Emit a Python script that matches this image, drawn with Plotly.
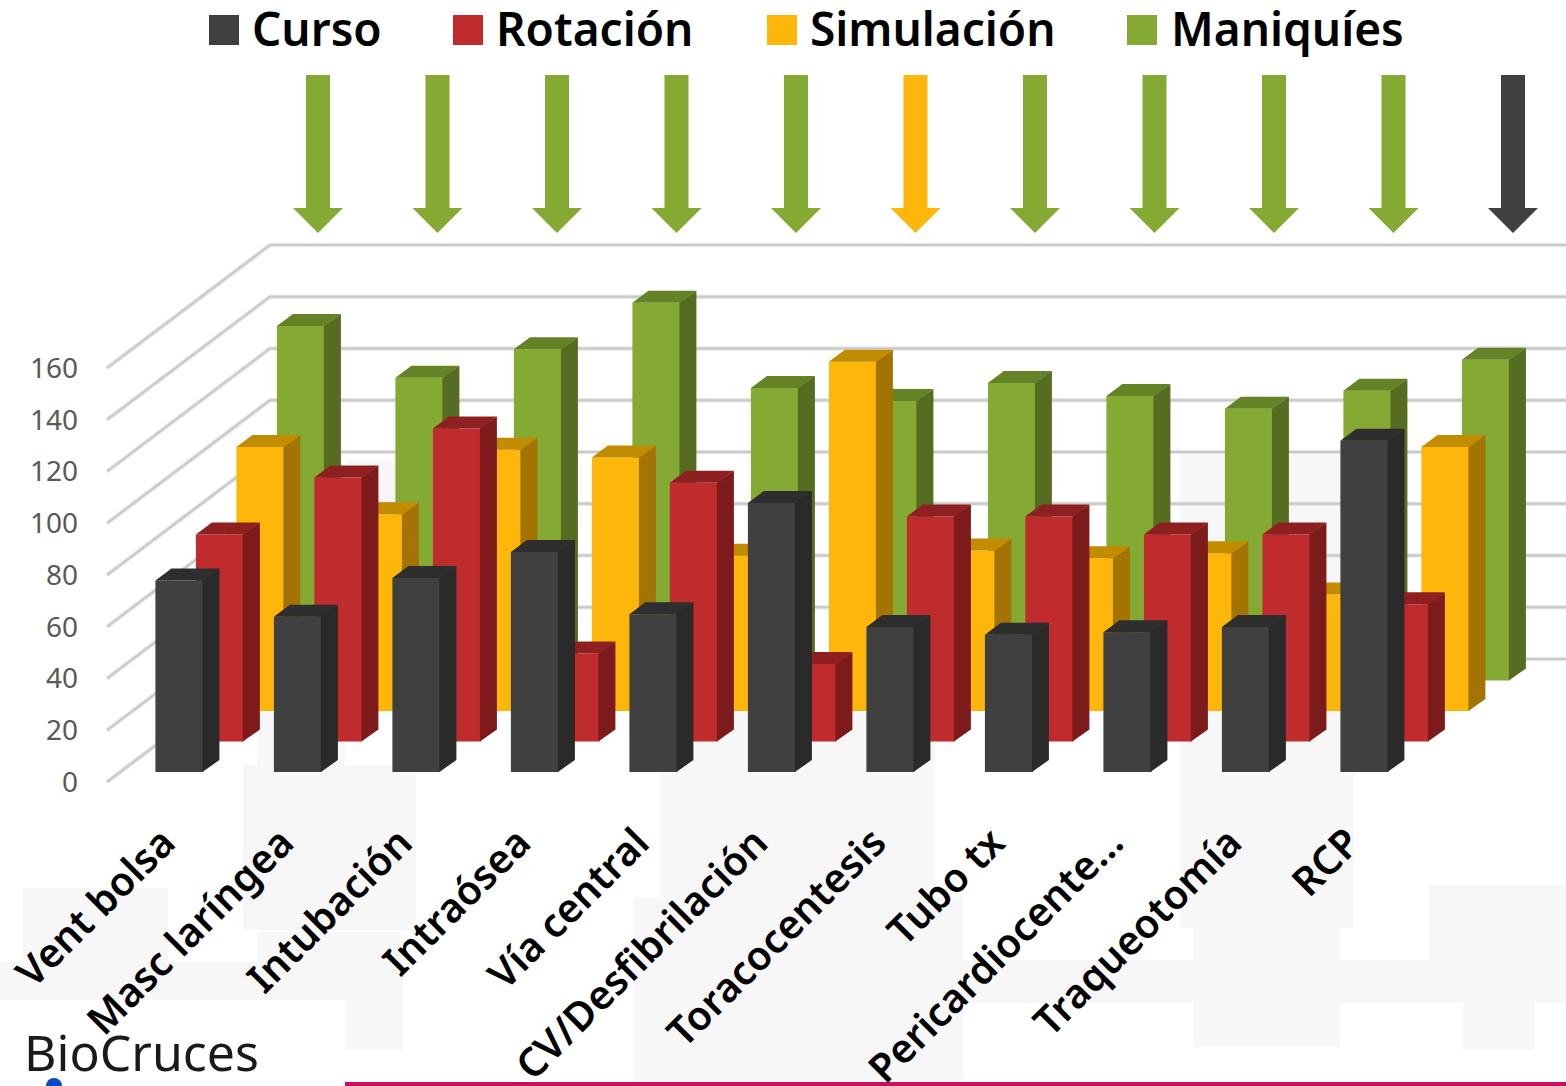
import plotly.graph_objects as go

categories = ["Vent bolsa", "Masc laríngea", "Intubación", "Intraósea", "Vía central",
              "CV/Desfibrilación", "Toracocentesis", "Tubo tx", "Pericardiocente...",
              "Traqueotomía", "RCP"]
curso = [74, 60, 75, 85, 61, 104, 56, 53, 54, 56, 128]
rotacion = [80, 102, 121, 34, 100, 30, 87, 87, 80, 80, 53]
simulacion = [102, 76, 101, 98, 60, 135, 62, 59, 61, 45, 102]
maniquies = [137, 117, 128, 146, 113, 108, 115, 110, 105, 112, 124]
preferred = ["Maniquíes"] * 5 + ["Simulación"] + ["Maniquíes"] * 4 + ["Curso"]
y_ticks = [0, 20, 40, 60, 80, 100, 120, 140, 160]

W, H = 1566, 1086
PX_X, X0 = 118.5, 179.4
PX_Y, Y0 = 2.5875, 782.0
X_RANGE = [(0 - X0) / PX_X, (W - X0) / PX_X]
Y_RANGE = [(Y0 - H) / PX_Y, Y0 / PX_Y]
BAR_W = 48 / PX_X
SIDE_X = 16 / PX_X
SIDE_Y = 12 / PX_Y
ROW_X = 40.5 / PX_X
ROW_Y = 30.5 / PX_Y
BASE_Y = 10 / PX_Y
SEAM = 1 / PX_X

series = [
    ("Curso", curso, "#404040", "#2a2a2a", "#2e2e2e", 0),
    ("Rotación", rotacion, "#c02b2e", "#7c1a1c", "#8f2022", 1),
    ("Simulación", simulacion, "#ffb60a", "#a37404", "#c18c00", 2),
    ("Maniquíes", maniquies, "#85aa33", "#566d21", "#648226", 3),
]
colors = {s[0]: s[2] for s in series}

fig = go.Figure()

# Chart walls: grid lines in data units, running back from the axis and along the wall
WALL_DX = 163 / PX_X
WALL_DY = 123 / PX_Y
WALL_X0 = (107 - X0) / PX_X
gx, gy = [], []
for v in y_ticks:
    gx += [WALL_X0, WALL_X0 + WALL_DX, X_RANGE[1], None]
    gy += [v, v + WALL_DY, v + WALL_DY, None]
fig.add_trace(go.Scatter(x=gx, y=gy, mode="lines", line=dict(color="#e6e6e6", width=4.5),
                         hoverinfo="skip", showlegend=False))
fig.add_trace(go.Scatter(x=gx, y=gy, mode="lines", line=dict(color="#c8c8c8", width=2),
                         hoverinfo="skip", showlegend=False))

# Back row first, each in its own overlaid subplot so it covers the rows behind it
for n, (name, vals, front, side, top, row) in enumerate(reversed(series), start=2):
    xa, ya = f"x{n}", f"y{n}"
    base = BASE_Y + row * ROW_Y
    xs = [i + row * ROW_X for i in range(len(vals))]
    fig.add_trace(go.Bar(x=xs, y=vals, base=[base] * len(vals), width=BAR_W, name=name,
                         marker=dict(color=front, line=dict(width=0)),
                         xaxis=xa, yaxis=ya, showlegend=False))
    sx, sy, tx, ty = [], [], [], []
    for c, v in zip(xs, vals):
        l, r, t = c - BAR_W / 2, c + BAR_W / 2, base + v
        sx += [r - SEAM, r + SIDE_X, r + SIDE_X, r - SEAM, r - SEAM, None]
        sy += [base, base + SIDE_Y, t + SIDE_Y, t, base, None]
        tx += [l, l + SIDE_X, r + SIDE_X, r, l, None]
        ty += [t, t + SIDE_Y, t + SIDE_Y, t, t, None]
    for px, py, col in ((sx, sy, side), (tx, ty, top)):
        fig.add_trace(go.Scatter(x=px, y=py, mode="lines", fill="toself", fillcolor=col,
                                 line=dict(width=0, color=col), hoverinfo="skip",
                                 showlegend=False, xaxis=xa, yaxis=ya))

def pxx(x):
    return x / W

def pxy(y):
    return 1 - y / H

shapes = []
# Faint background patches and logo panel
patches = [(243, 765, 416, 930), (257, 712, 345, 765), (347, 460, 420, 712), (22, 888, 168, 962),
           (258, 932, 400, 1050), (0, 962, 403, 1000), (345, 1000, 403, 1050), (660, 712, 935, 897),
           (633, 897, 963, 1086), (963, 960, 1566, 1003), (1180, 455, 1354, 760), (1180, 760, 1354, 928),
           (1194, 928, 1340, 1047), (1429, 885, 1566, 1003), (1463, 1003, 1534, 1050)]
for x0, y0, x1, y1 in patches:
    shapes.append(dict(type="rect", xref="paper", yref="paper", x0=pxx(x0), x1=pxx(x1),
                       y0=pxy(y1), y1=pxy(y0), fillcolor="#f7f7f7", line_width=0, layer="below"))
shapes.append(dict(type="rect", xref="paper", yref="paper", x0=0, x1=pxx(345),
                   y0=0, y1=pxy(1000), fillcolor="#ffffff", line_width=0, layer="below"))
shapes.append(dict(type="rect", xref="paper", yref="paper", x0=pxx(345), x1=1,
                   y0=0, y1=pxy(1082), fillcolor="#c4125f", line_width=0, layer="above"))
shapes.append(dict(type="circle", xref="paper", yref="paper", x0=pxx(46), x1=pxx(62),
                   y0=pxy(1094), y1=pxy(1078), fillcolor="#0a46c8", line_width=0, layer="above"))

# Arrows
for i, who in enumerate(preferred):
    c = 318 + 119.5 * i
    pts = [(c - 12, 75), (c + 12, 75), (c + 12, 208), (c + 25, 208), (c, 233), (c - 25, 208), (c - 12, 208)]
    path = "M " + " L ".join(f"{pxx(a):.5f},{pxy(b):.5f}" for a, b in pts) + " Z"
    shapes.append(dict(type="path", xref="paper", yref="paper", path=path,
                       fillcolor=colors[who], line_width=0, layer="above"))

# Legend
legend_pos = {"Curso": (209, 253), "Rotación": (453, 497), "Simulación": (767, 811), "Maniquíes": (1127, 1172)}
annotations = []
for name, (sq, tx_) in legend_pos.items():
    shapes.append(dict(type="rect", xref="paper", yref="paper", x0=pxx(sq), x1=pxx(sq + 30),
                       y0=pxy(45), y1=pxy(15), fillcolor=colors[name], line_width=0, layer="above"))
    annotations.append(dict(text=name, xref="paper", yref="paper", x=pxx(tx_), y=pxy(28),
                            xanchor="left", yanchor="middle", showarrow=False, xshift=-3,
                            font=dict(family="Noto Sans", size=46, color="#000000", weight=600)))

annotations.append(dict(text="BioCruces", xref="paper", yref="paper", x=pxx(22), y=pxy(1052),
                        xanchor="left", yanchor="middle", showarrow=False,
                        font=dict(family="Noto Sans", size=50, color="#1a1a1a")))
annotations.append(dict(text="HEALTH RESEARCH", xref="paper", yref="paper", x=pxx(108), y=pxy(1090),
                        xanchor="left", yanchor="middle", showarrow=False,
                        font=dict(family="Noto Sans", size=14, color="#777777")))

layout = dict(
    width=W, height=H, margin=dict(l=0, r=0, t=0, b=0, autoexpand=False), autosize=False,
    paper_bgcolor="#ffffff", plot_bgcolor="rgba(0,0,0,0)", showlegend=False, barmode="overlay",
    shapes=shapes, annotations=annotations,
    xaxis=dict(range=X_RANGE, domain=[0, 1], anchor="free", position=1 - 810 / H, showgrid=False,
               zeroline=False, showline=False, ticks="", tickmode="array", automargin=False,
               tickvals=list(range(len(categories))), ticktext=categories, tickangle=-45,
               ticklabelshift=-16,
               tickfont=dict(family="Noto Sans", size=40, color="#000000", weight=600)),
    yaxis=dict(range=Y_RANGE, domain=[0, 1], anchor="free", position=78 / W, showgrid=False,
               zeroline=False, showline=False, ticks="", tickmode="array", tickvals=y_ticks,
               ticktext=[str(v) for v in y_ticks], automargin=False,
               tickfont=dict(family="Noto Sans", size=28, color="#595959")),
)
for n in range(2, 6):
    layout[f"xaxis{n}"] = dict(range=X_RANGE, domain=[0, 1], overlaying="x", visible=False, anchor=f"y{n}", automargin=False)
    layout[f"yaxis{n}"] = dict(range=Y_RANGE, domain=[0, 1], overlaying="y", visible=False, anchor=f"x{n}", automargin=False)
fig.update_layout(**layout)

fig.write_html("out.html", config={"displayModeBar": False}, post_script="document.body.style.margin='0';")
